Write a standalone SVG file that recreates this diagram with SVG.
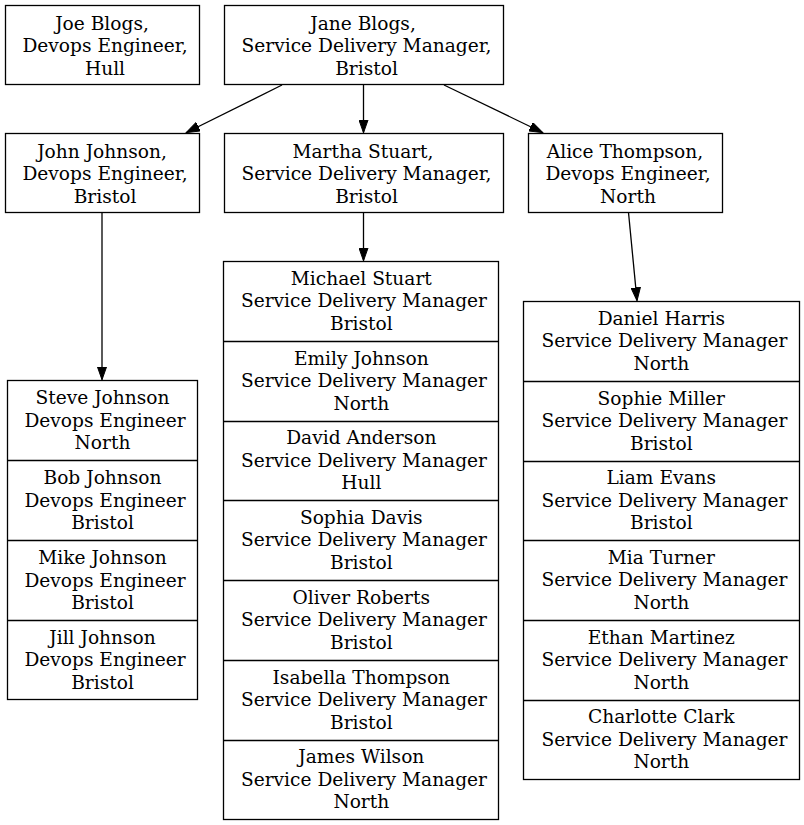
<svg xmlns="http://www.w3.org/2000/svg" width="804" height="825" viewBox="0 0 804 825">
<style>
.node, line.sep { fill: #fff; stroke: #000; stroke-width: 1.3; }
line.sep { fill: none; }
text { font-family: "DejaVu Serif", serif; font-size: 18.6px; text-anchor: middle; fill: #000; }
.edge { stroke: #000; stroke-width: 1.3; fill: none; }
</style>
<defs>
<marker id="arr" markerWidth="14" markerHeight="10" refX="13" refY="5" orient="auto" markerUnits="userSpaceOnUse">
<path d="M0,0.3 L13.3,5 L0,9.7 Z" fill="#000" stroke="#000" stroke-width="1"/>
</marker>
</defs>
<rect x="0" y="0" width="804" height="825" fill="#fff"/>
<g id="edges">
<line class="edge" x1="282" y1="85" x2="186.5" y2="132.5" marker-end="url(#arr)"/>
<line class="edge" x1="363.5" y1="85" x2="363.5" y2="132.5" marker-end="url(#arr)"/>
<line class="edge" x1="444" y1="85" x2="542.5" y2="132.5" marker-end="url(#arr)"/>
<line class="edge" x1="102" y1="212.5" x2="102" y2="379.5" marker-end="url(#arr)"/>
<line class="edge" x1="363.5" y1="212.5" x2="363.5" y2="260.5" marker-end="url(#arr)"/>
<line class="edge" x1="628.5" y1="212.5" x2="637" y2="300.5" marker-end="url(#arr)"/>
</g>
<g id="joe">
<rect class="node" x="5.5" y="5.5" width="194" height="79"/>
<text x="102" y="29.5">Joe Blogs,</text>
<text x="105" y="52">Devops Engineer,</text>
<text x="105" y="74.5">Hull</text>
</g>
<g id="jane">
<rect class="node" x="224.5" y="5.5" width="279" height="79"/>
<text x="363" y="29.5">Jane Blogs,</text>
<text x="366.5" y="52">Service Delivery Manager,</text>
<text x="366.5" y="74.5">Bristol</text>
</g>
<g id="john">
<rect class="node" x="5.5" y="133.5" width="194" height="79"/>
<text x="102" y="157.5">John Johnson,</text>
<text x="105" y="180">Devops Engineer,</text>
<text x="105" y="202.5">Bristol</text>
</g>
<g id="martha">
<rect class="node" x="224.5" y="133.5" width="279" height="79"/>
<text x="363" y="157.5">Martha Stuart,</text>
<text x="366.5" y="180">Service Delivery Manager,</text>
<text x="366.5" y="202.5">Bristol</text>
</g>
<g id="alice">
<rect class="node" x="528.5" y="133.5" width="194" height="79"/>
<text x="625" y="157.5">Alice Thompson,</text>
<text x="628" y="180">Devops Engineer,</text>
<text x="628" y="202.5">North</text>
</g>
<g id="devops-team">
<rect class="node" x="7.5" y="380.5" width="190" height="319"/>
<line class="sep" x1="7.5" y1="460.5" x2="197.5" y2="460.5"/>
<line class="sep" x1="7.5" y1="540.5" x2="197.5" y2="540.5"/>
<line class="sep" x1="7.5" y1="620.5" x2="197.5" y2="620.5"/>
<text x="102.5" y="404">Steve Johnson</text>
<text x="105" y="426.5">Devops Engineer</text>
<text x="102.5" y="449">North</text>
<text x="102.5" y="484">Bob Johnson</text>
<text x="105" y="506.5">Devops Engineer</text>
<text x="102.5" y="529">Bristol</text>
<text x="102.5" y="564">Mike Johnson</text>
<text x="105" y="586.5">Devops Engineer</text>
<text x="102.5" y="609">Bristol</text>
<text x="102.5" y="643.5">Jill Johnson</text>
<text x="105" y="666">Devops Engineer</text>
<text x="102.5" y="688.5">Bristol</text>
</g>
<g id="sdm-team">
<rect class="node" x="223.5" y="261.5" width="275" height="558"/>
<line class="sep" x1="223.5" y1="341.5" x2="498.5" y2="341.5"/>
<line class="sep" x1="223.5" y1="421.5" x2="498.5" y2="421.5"/>
<line class="sep" x1="223.5" y1="500.5" x2="498.5" y2="500.5"/>
<line class="sep" x1="223.5" y1="580.5" x2="498.5" y2="580.5"/>
<line class="sep" x1="223.5" y1="660.5" x2="498.5" y2="660.5"/>
<line class="sep" x1="223.5" y1="740.5" x2="498.5" y2="740.5"/>
<text x="361.3" y="284.5">Michael Stuart</text>
<text x="364" y="307">Service Delivery Manager</text>
<text x="361.3" y="329.5">Bristol</text>
<text x="361.3" y="364.5">Emily Johnson</text>
<text x="364" y="387">Service Delivery Manager</text>
<text x="361.3" y="409.5">North</text>
<text x="361.3" y="444">David Anderson</text>
<text x="364" y="466.5">Service Delivery Manager</text>
<text x="361.3" y="489">Hull</text>
<text x="361.3" y="523.5">Sophia Davis</text>
<text x="364" y="546">Service Delivery Manager</text>
<text x="361.3" y="568.5">Bristol</text>
<text x="361.3" y="603.5">Oliver Roberts</text>
<text x="364" y="626">Service Delivery Manager</text>
<text x="361.3" y="648.5">Bristol</text>
<text x="361.3" y="683.5">Isabella Thompson</text>
<text x="364" y="706">Service Delivery Manager</text>
<text x="361.3" y="728.5">Bristol</text>
<text x="361.3" y="763">James Wilson</text>
<text x="364" y="785.5">Service Delivery Manager</text>
<text x="361.3" y="808">North</text>
</g>
<g id="north-team">
<rect class="node" x="523.5" y="301.5" width="276" height="478"/>
<line class="sep" x1="523.5" y1="381.5" x2="799.5" y2="381.5"/>
<line class="sep" x1="523.5" y1="461.5" x2="799.5" y2="461.5"/>
<line class="sep" x1="523.5" y1="540.5" x2="799.5" y2="540.5"/>
<line class="sep" x1="523.5" y1="620.5" x2="799.5" y2="620.5"/>
<line class="sep" x1="523.5" y1="700.5" x2="799.5" y2="700.5"/>
<text x="661.3" y="324.5">Daniel Harris</text>
<text x="664.5" y="347">Service Delivery Manager</text>
<text x="661.3" y="369.5">North</text>
<text x="661.3" y="404.5">Sophie Miller</text>
<text x="664.5" y="427">Service Delivery Manager</text>
<text x="661.3" y="449.5">Bristol</text>
<text x="661.3" y="484">Liam Evans</text>
<text x="664.5" y="506.5">Service Delivery Manager</text>
<text x="661.3" y="529">Bristol</text>
<text x="661.3" y="563.5">Mia Turner</text>
<text x="664.5" y="586">Service Delivery Manager</text>
<text x="661.3" y="608.5">North</text>
<text x="661.3" y="643.5">Ethan Martinez</text>
<text x="664.5" y="666">Service Delivery Manager</text>
<text x="661.3" y="688.5">North</text>
<text x="661.3" y="723">Charlotte Clark</text>
<text x="664.5" y="745.5">Service Delivery Manager</text>
<text x="661.3" y="768">North</text>
</g>
</svg>
